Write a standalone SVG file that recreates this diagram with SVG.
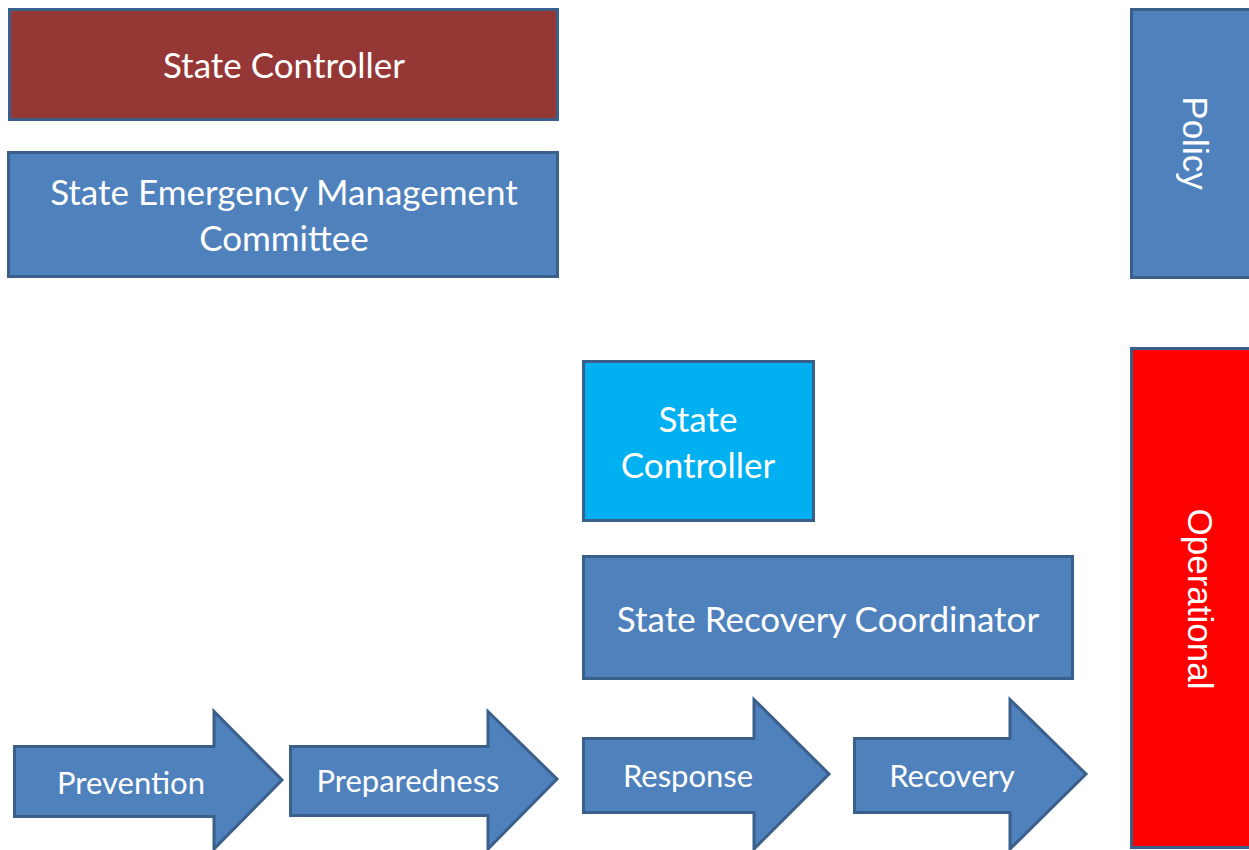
<svg xmlns="http://www.w3.org/2000/svg" width="1249" height="850" viewBox="0 0 1249 850">
<style>
.box{stroke:#3a5f8b;stroke-width:3}
.blue{fill:#4f81bd}
.t{font-family:Lato,"Liberation Sans",sans-serif;fill:#fff;text-anchor:middle}
.big{font-size:35px}
.arr{font-size:31px}
.side{font-family:"Liberation Sans",Arial,sans-serif;font-size:35px;fill:#fff;text-anchor:middle}
</style>
<rect width="1249" height="850" fill="#fff"/>
<g id="state-controller-policy">
<rect class="box" x="9.5" y="9.5" width="548" height="110" fill="#953735"/>
<text class="t big" x="284" y="78">State Controller</text>
</g>
<g id="semc">
<rect class="box blue" x="8.5" y="152.5" width="549" height="124"/>
<text class="t big" x="284" y="205">State Emergency Management</text>
<text class="t big" x="284" y="251">Committee</text>
</g>
<g id="policy">
<rect class="box blue" x="1131.5" y="9.5" width="130" height="268"/>
<text class="side" transform="translate(1183 143) rotate(90)">Policy</text>
</g>
<g id="operational">
<rect class="box" x="1131.5" y="348.5" width="130" height="499" fill="#ff0000"/>
<text class="side" transform="translate(1188 599) rotate(90)">Operational</text>
</g>
<g id="state-controller-op">
<rect class="box" x="583.5" y="361.5" width="230" height="159" fill="#00b0f0"/>
<text class="t big" x="698" y="432">State</text>
<text class="t big" x="698" y="478">Controller</text>
</g>
<g id="src">
<rect class="box blue" x="583.5" y="556.5" width="489" height="122"/>
<text class="t big" x="828" y="632">State Recovery Coordinator</text>
</g>
<g id="connectors">
<g id="prevention">
<path class="box blue" d="M14.5 746.5 H214 V711.5 L282 780 L214 849 V816.5 H14.5 Z"/>
<text class="t arr" x="131" y="794">Prevention</text>
</g>
<g id="preparedness">
<path class="box blue" d="M290.5 746.5 H488 V711.5 L557 779 L488 849 V815.5 H290.5 Z"/>
<text class="t arr" x="408" y="792">Preparedness</text>
</g>
<g id="response">
<path class="box blue" d="M583.5 738.5 H754 V699.5 L829 774 L754 849 V812.5 H583.5 Z"/>
<text class="t arr" x="688" y="787">Response</text>
</g>
<g id="recovery">
<path class="box blue" d="M854.5 738.5 H1010 V699.5 L1086 774 L1010 849 V812.5 H854.5 Z"/>
<text class="t arr" x="952" y="787">Recovery</text>
</g>
</g>
</svg>
